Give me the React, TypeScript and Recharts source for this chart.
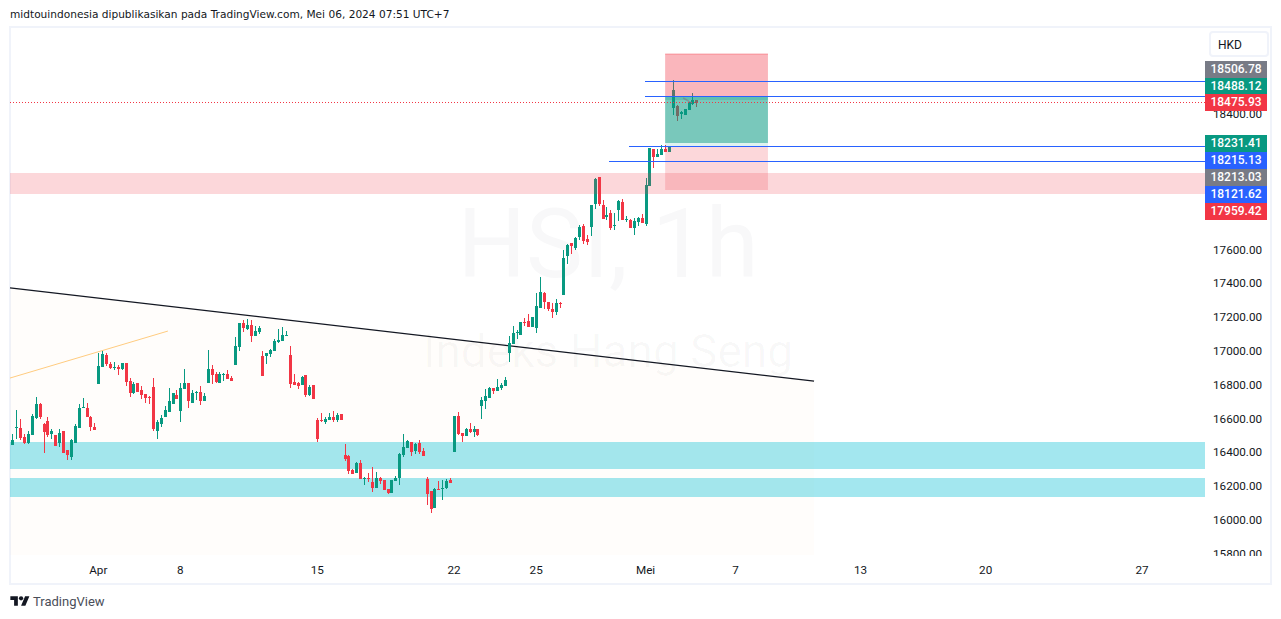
import { Area, Bar, ComposedChart, Line, ReferenceArea, ReferenceLine, XAxis, YAxis } from "recharts";

const opens = [
  16444, 16544, 16544, 16491, 16456, 16503, 16604, 16686, 16568, 16586, 16509, 16503, 16456, 16527, 16414, 16373,
  16456, 16544, 16663, 16663, 16610, 16550, 16805, 16905, 16976, 16923, 16899, 16905, 16893, 16929, 16822, 16752,
  16811, 16769, 16746, 16728, 16787, 16527, 16568, 16610, 16639, 16686, 16740, 16645, 16775, 16811, 16692, 16752,
  16757, 16704, 16811, 16893, 16864, 16811, 16858, 16864, 16841, 16917, 17024, 17166, 17130, 17154, 17089, 17113,
  16971, 16971, 16983, 17000, 17054, 17059, 17089, 16977, 16817, 16811, 16799, 16858, 16740, 16799, 16592, 16592,
  16580, 16592, 16610, 16592, 16628, 16385, 16379, 16296, 16279, 16338, 16243, 16249, 16225, 16190, 16249, 16237,
  16184, 16160, 16231, 16249, 16385, 16426, 16462, 16409, 16456, 16409, 16243, 16172, 16071, 16184, 16184, 16190,
  16236, 16402, 16615, 16515, 16497, 16538, 16520, 16538, 16674, 16704, 16722, 16781, 16763, 16781, 16793, 16988,
  17041, 17106, 17094, 17171, 17177, 17142, 17136, 17254, 17343, 17290, 17248, 17230, 17284, 17331, 17562, 17639,
  17609, 17674, 17739, 17662, 17733, 17869, 18029, 17863, 17792, 17816, 17739, 17834, 17881, 17775, 17775, 17727,
  17763, 17787, 17751, 17976, 18195, 18147, 18159, 18195, 18177, 18438, 18450, 18402, 18396, 18426, 18461, 18485,
];
const highs = [
  16509, 16651, 16598, 16509, 16527, 16627, 16728, 16692, 16574, 16610, 16539, 16503, 16539, 16527, 16414, 16479,
  16568, 16686, 16722, 16692, 16615, 16574, 16988, 17006, 16988, 16935, 16935, 16917, 16929, 16929, 16840, 16817,
  16811, 16793, 16746, 16734, 16840, 16592, 16621, 16675, 16781, 16752, 16769, 16811, 16893, 16811, 16769, 16763,
  16793, 16752, 17006, 16917, 16876, 16876, 16870, 16888, 16852, 17083, 17166, 17184, 17190, 17184, 17148, 17148,
  17000, 16988, 17012, 17071, 17130, 17142, 17119, 17030, 16864, 16817, 16852, 16858, 16799, 16799, 16604, 16634,
  16610, 16634, 16645, 16634, 16628, 16450, 16385, 16302, 16344, 16355, 16255, 16279, 16314, 16284, 16255, 16237,
  16184, 16237, 16261, 16397, 16509, 16474, 16462, 16456, 16474, 16426, 16255, 16172, 16190, 16231, 16237, 16243,
  16246, 16615, 16639, 16515, 16544, 16574, 16556, 16538, 16728, 16775, 16787, 16781, 16834, 16810, 16846, 17088,
  17148, 17124, 17171, 17195, 17219, 17201, 17343, 17437, 17349, 17290, 17284, 17307, 17290, 17597, 17633, 17639,
  17674, 17745, 17751, 17686, 17863, 18023, 18029, 17893, 17852, 17834, 17816, 17893, 17899, 17798, 17781, 17787,
  17792, 17810, 18023, 18201, 18195, 18195, 18218, 18218, 18213, 18603, 18456, 18420, 18432, 18473, 18527, 18485,
];
const lows = [
  16444, 16479, 16473, 16450, 16450, 16503, 16598, 16598, 16397, 16491, 16479, 16438, 16432, 16397, 16355, 16355,
  16456, 16544, 16663, 16610, 16527, 16533, 16805, 16905, 16911, 16893, 16888, 16858, 16888, 16793, 16728, 16746,
  16757, 16716, 16692, 16686, 16527, 16479, 16550, 16610, 16639, 16686, 16716, 16580, 16775, 16663, 16692, 16710,
  16680, 16704, 16811, 16805, 16811, 16811, 16822, 16834, 16823, 16917, 17000, 17113, 17125, 17054, 17089, 17101,
  16852, 16923, 16965, 17000, 17048, 17059, 17089, 16781, 16799, 16775, 16799, 16728, 16734, 16716, 16462, 16580,
  16568, 16592, 16580, 16580, 16592, 16350, 16273, 16273, 16279, 16243, 16208, 16225, 16166, 16190, 16213, 16178,
  16154, 16160, 16231, 16208, 16373, 16426, 16379, 16391, 16391, 16379, 16089, 16042, 16071, 16178, 16119, 16184,
  16219, 16402, 16503, 16461, 16497, 16515, 16491, 16497, 16597, 16657, 16722, 16745, 16763, 16769, 16793, 16935,
  17041, 17071, 17094, 17148, 17142, 17142, 17106, 17254, 17248, 17236, 17195, 17213, 17254, 17331, 17514, 17574,
  17597, 17656, 17633, 17627, 17680, 17840, 17858, 17781, 17775, 17716, 17716, 17769, 17775, 17763, 17727, 17686,
  17739, 17757, 17739, 17976, 18082, 18147, 18159, 18177, 18177, 18396, 18361, 18373, 18396, 18426, 18456, 18444,
];
const closes = [
  16473, 16550, 16485, 16456, 16509, 16615, 16686, 16610, 16521, 16503, 16527, 16438, 16515, 16397, 16385, 16473,
  16556, 16663, 16669, 16610, 16550, 16533, 16911, 16982, 16923, 16899, 16905, 16893, 16929, 16817, 16752, 16805,
  16757, 16740, 16722, 16722, 16539, 16580, 16604, 16651, 16704, 16752, 16716, 16781, 16811, 16704, 16752, 16757,
  16704, 16734, 16893, 16858, 16817, 16864, 16864, 16834, 16823, 17030, 17166, 17136, 17154, 17089, 17119, 17136,
  16852, 16988, 17006, 17059, 17065, 17095, 17095, 16805, 16799, 16793, 16846, 16740, 16787, 16716, 16480, 16586,
  16598, 16610, 16592, 16622, 16592, 16361, 16290, 16273, 16338, 16243, 16249, 16243, 16190, 16249, 16231, 16178,
  16160, 16237, 16249, 16391, 16432, 16468, 16403, 16450, 16403, 16379, 16154, 16066, 16184, 16178, 16190, 16231,
  16219, 16615, 16509, 16497, 16538, 16520, 16538, 16503, 16710, 16733, 16781, 16763, 16787, 16798, 16828, 17047,
  17106, 17112, 17171, 17165, 17142, 17201, 17266, 17349, 17290, 17248, 17230, 17284, 17278, 17550, 17627, 17621,
  17668, 17733, 17650, 17645, 17863, 18017, 17869, 17781, 17804, 17727, 17745, 17887, 17775, 17781, 17727, 17769,
  17787, 17757, 17982, 18201, 18147, 18165, 18195, 18177, 18207, 18544, 18390, 18414, 18432, 18473, 18485, 18467,
];

const xTickBars = [22, 43, 78, 113, 134, 162, 185, 217, 249, 289];
const xTickLabels = ["Apr", "8", "15", "22", "25", "Mei", "7", "13", "20", "27"];
const priceTicks = [15800, 16000, 16200, 16400, 16600, 16800, 17000, 17200, 17400, 17600, 18400];

const X_MIN = -0.59;
const X_MAX = 305.1;
const Y_MIN = 15793;
const Y_MAX = 18911;

const trendLine = [
  { bar: X_MIN, price: 17373 },
  { bar: 205.1, price: 16822 },
];
const orangeLine = [
  { bar: X_MIN, price: 16840 },
  { bar: 39.8, price: 17118 },
];

const tagValues = ["18506.78", "18488.12", "18475.93", "18231.41", "18215.13", "18213.03", "18121.62", "17959.42"];
const tagColors = ["#787b86", "#089981", "#f23645", "#089981", "#2962ff", "#787b86", "#2962ff", "#f23645"];
const tagTops = [61, 78, 94, 135, 152, 169, 186, 203];

const candles = opens.map((open, i) => ({
  bar: i,
  open,
  high: highs[i],
  low: lows[i],
  close: closes[i],
}));

const UP = "#089981";
const DOWN = "#f23645";
const BLUE = "#2962ff";
const FONT = "Roboto, sans-serif";
const LAYER = { position: "absolute", left: 0, top: 0 } as const;

function Candle(props: any) {
  const { x, y, width, height, payload } = props;
  const { open, close, high, low } = payload;
  const perUnit = height / (high - low || 1);
  const top = y + (high - Math.max(open, close)) * perUnit;
  const bottom = y + (high - Math.min(open, close)) * perUnit;
  const cx = Math.round(x + width / 2);
  const color = close >= open ? UP : DOWN;
  return (
    <g shapeRendering="crispEdges">
      <rect x={cx} y={Math.round(y)} width={1} height={Math.max(1, Math.round(height))} fill={color} />
      <rect
        x={cx - 1}
        y={Math.round(top)}
        width={3}
        height={Math.max(1, Math.round(bottom) - Math.round(top))}
        fill={color}
      />
    </g>
  );
}

function PriceTick(props: any) {
  const { x, y, payload } = props;
  return (
    <g>
      <defs>
        <clipPath id="price-axis-clip">
          <rect x={1205} y={0} width={76} height={556} />
        </clipPath>
      </defs>
      <text x={x} y={y + 4} clipPath="url(#price-axis-clip)" fontFamily={FONT} fontSize={11.7} fill="#131722">
        {payload.value.toFixed(2)}
      </text>
    </g>
  );
}

export default function App() {
  return (
    <div style={{ position: "absolute", left: 0, top: 0, width: 1281, height: 619, background: "#fff", overflow: "hidden" }}>
      <div style={{ position: "absolute", left: 10, top: 8, fontFamily: "'DejaVu Sans', sans-serif", fontSize: 10.6, color: "#131722", whiteSpace: "nowrap" }}>
        midtouindonesia dipublikasikan pada TradingView.com, Mei 06, 2024 07:51 UTC+7
      </div>

      {/* chart frame */}
      <div style={{ position: "absolute", left: 9, top: 26, width: 1259, height: 555, border: "2px solid #f0f3fa" }} />

      {/* watermark sits under the chart */}
      <div style={{ position: "absolute", left: 308, width: 600, top: 188, textAlign: "center", fontFamily: FONT, fontSize: 96, lineHeight: "112px", color: "rgba(42,46,57,0.03)" }}>
        HSI, 1h
      </div>
      <div style={{ position: "absolute", left: 308, width: 600, top: 323, textAlign: "center", fontFamily: FONT, fontSize: 46, lineHeight: "56px", color: "rgba(42,46,57,0.03)" }}>
        Indeks Hang Seng
      </div>

      <div style={LAYER}>
        <ComposedChart width={1281} height={619} data={candles} margin={{ top: 28, right: 11, bottom: 35, left: 10 }}>
          <XAxis
            dataKey="bar"
            type="number"
            domain={[X_MIN, X_MAX]}
            ticks={xTickBars}
            interval={0}
            height={29}
            axisLine={false}
            tickLine={false}
            tickMargin={5}
            tick={{ fontFamily: FONT, fontSize: 11.7, fill: "#131722" }}
            tickFormatter={(v: number) => xTickLabels[xTickBars.indexOf(v)]}
          />
          <YAxis
            orientation="right"
            type="number"
            domain={[Y_MIN, Y_MAX]}
            ticks={priceTicks}
            interval={0}
            width={65}
            axisLine={false}
            tickLine={false}
            tick={<PriceTick />}
          />

          <Area
            data={trendLine}
            dataKey="price"
            type="linear"
            baseValue={Y_MIN}
            stroke="#131722"
            strokeWidth={1.2}
            fill="#ff9800"
            fillOpacity={0.016}
            dot={false}
            activeDot={false}
            isAnimationActive={false}
          />
          <Line
            data={orangeLine}
            dataKey="price"
            type="linear"
            stroke="#ffcc80"
            strokeWidth={1}
            dot={false}
            activeDot={false}
            isAnimationActive={false}
          />

          <ReferenceArea x1={X_MIN} x2={X_MAX} y1={16302} y2={16461} fill="#00bcd4" fillOpacity={0.36} stroke="none" />
          <ReferenceArea x1={X_MIN} x2={X_MAX} y1={16136} y2={16249} fill="#00bcd4" fillOpacity={0.36} stroke="none" />

          <Bar
            dataKey={(d: any) => [d.low, d.high]}
            barSize={3}
            shape={<Candle />}
            isAnimationActive={false}
          />
        </ComposedChart>
      </div>

      {/* drawings above the candles, second chart with the same scales */}
      <div style={LAYER}>
        <ComposedChart width={1281} height={619} data={candles} margin={{ top: 28, right: 11, bottom: 35, left: 10 }}>
          <XAxis dataKey="bar" type="number" domain={[X_MIN, X_MAX]} height={29} tick={false} axisLine={false} tickLine={false} />
          <YAxis orientation="right" type="number" domain={[Y_MIN, Y_MAX]} width={65} tick={false} axisLine={false} tickLine={false} />

          <Line dataKey="close" stroke="none" dot={false} activeDot={false} isAnimationActive={false} />

          <ReferenceLine segment={[{ x: 161.9, y: 18594.5 }, { x: X_MAX, y: 18594.5 }]} stroke={BLUE} shapeRendering="crispEdges" />
          <ReferenceLine segment={[{ x: 161.9, y: 18505.7 }, { x: X_MAX, y: 18505.7 }]} stroke={BLUE} shapeRendering="crispEdges" />
          <ReferenceLine segment={[{ x: 157.8, y: 18209.9 }, { x: X_MAX, y: 18209.9 }]} stroke={BLUE} shapeRendering="crispEdges" />
          <ReferenceLine segment={[{ x: 152.6, y: 18121.1 }, { x: X_MAX, y: 18121.1 }]} stroke={BLUE} shapeRendering="crispEdges" />
          <ReferenceLine y={18471} stroke={DOWN} strokeDasharray="1 2" shapeRendering="crispEdges" />
          <ReferenceLine segment={[{ x: 167, y: 18757 }, { x: 193.3, y: 18757 }]} stroke={DOWN} strokeOpacity={0.4} />
          <ReferenceLine segment={[{ x: 171.6, y: 18497 }, { x: 173.9, y: 18467 }]} stroke="#787b86" strokeWidth={1.5} strokeOpacity={0.6} />

          <ReferenceArea x1={X_MIN} x2={X_MAX} y1={17929} y2={18053} fill={DOWN} fillOpacity={0.2} stroke="none" />
          <ReferenceArea x1={167} x2={193.3} y1={18503} y2={18757} fill={DOWN} fillOpacity={0.36} stroke="none" />
          <ReferenceArea x1={167} x2={193.3} y1={18231} y2={18503} fill={UP} fillOpacity={0.54} stroke="none" />
          <ReferenceArea x1={167} x2={193.3} y1={18485} y2={18503} fill={UP} fillOpacity={0.2} stroke="none" />
          <ReferenceArea x1={167} x2={193.3} y1={18210} y2={18231} fill={UP} fillOpacity={0.13} stroke="none" />
          <ReferenceArea x1={167} x2={193.3} y1={17953} y2={18210} fill={DOWN} fillOpacity={0.2} stroke="none" />
        </ComposedChart>
      </div>

      <div style={{ position: "absolute", left: 1209, top: 31, width: 49, height: 22, paddingLeft: 7, border: "2px solid #f0f3fa", borderRadius: 4, fontFamily: FONT, fontSize: 12, lineHeight: "24px", color: "#131722" }}>
        HKD
      </div>

      {tagValues.map((value, i) => (
        <div
          key={value}
          style={{ position: "absolute", left: 1205, top: tagTops[i], width: 62, height: 17, background: tagColors[i], color: "#fff", fontFamily: FONT, fontSize: 12, fontWeight: 500, lineHeight: "17px", textAlign: "center" }}
        >
          {value}
        </div>
      ))}

      <svg style={{ position: "absolute", left: 10, top: 594 }} width={20} height={15} viewBox="0 0 36 28">
        <path d="M14 22H7V11H0V4h14v18zM28 22h-8l7.5-18h8L28 22z" fill="#131722" />
        <circle cx={20} cy={8} r={4} fill="#131722" />
      </svg>
      <div style={{ position: "absolute", left: 33, top: 593, fontFamily: FONT, fontSize: 13, lineHeight: "17px", color: "#4a4e59" }}>
        TradingView
      </div>
    </div>
  );
}
